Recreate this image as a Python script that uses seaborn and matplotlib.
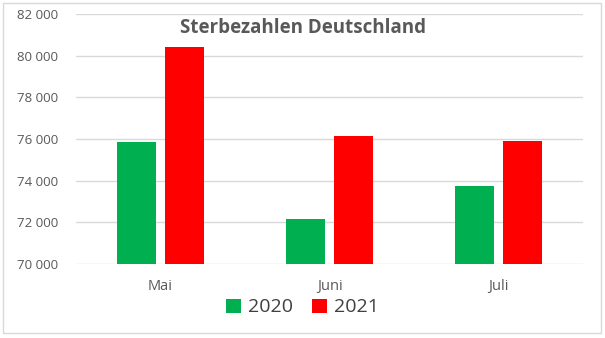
import matplotlib
matplotlib.use("Agg")
import matplotlib.pyplot as plt
import matplotlib.ticker as mticker
import seaborn as sns
import pandas as pd

months = ["Mai", "Juni", "Juli"]
years = ["2020", "2021"]
deaths_2020 = [75870, 72160, 73760]
deaths_2021 = [80400, 76130, 75900]
colors = ["#00B050", "#FF0000"]

df = pd.DataFrame({
    "Monat": months * 2,
    "Jahr": [years[0]] * 3 + [years[1]] * 3,
    "Sterbefälle": deaths_2020 + deaths_2021,
})

sns.set_theme(style="white")
plt.rcParams["font.family"] = ["Open Sans", "DejaVu Sans"]

fig = plt.figure(figsize=(6.05, 3.38), dpi=100)
ax = fig.add_axes([76 / 605, 1 - 264 / 338, (583 - 76) / 605, (264 - 14) / 338])

sns.barplot(data=df, x="Monat", y="Sterbefälle", hue="Jahr", palette=colors,
            width=0.568, gap=0.2, ax=ax, legend=True, saturation=1, linewidth=0)

ax.set_ylim(70000, 82000)
ax.yaxis.set_major_locator(mticker.MultipleLocator(2000))
ax.yaxis.set_major_formatter(mticker.FuncFormatter(lambda v, p: f"{int(v):,}".replace(",", " ")))
ax.grid(axis="y", color="#D9D9D9", linewidth=1)
ax.set_axisbelow(True)
for s in ax.spines.values():
    s.set_visible(False)
ax.tick_params(axis="both", length=0, colors="#595959")
ax.tick_params(axis="y", labelsize=9.5, pad=13)
ax.tick_params(axis="x", labelsize=10.5, pad=11)
ax.set_xlabel("")
ax.set_ylabel("")

ax.get_legend().remove()
handles, labels = ax.get_legend_handles_labels()
fig.legend(handles, labels, loc="center", bbox_to_anchor=(0.5, 1 - 307.5 / 338),
           ncol=2, frameon=False, fontsize=14, handlelength=0.75, handleheight=0.75,
           handletextpad=0.35, columnspacing=1.0, labelcolor="#404040")

fig.text(0.5, 1 - 28 / 338, "Sterbezahlen Deutschland", ha="center", va="center",
         fontsize=13.5, fontweight="bold", color="#595959")

border = plt.Rectangle((3 / 605, 5 / 338), 598 / 605, 330 / 338, transform=fig.transFigure,
                       fill=False, edgecolor="#D9D9D9", linewidth=1)
fig.patches.append(border)

fig.savefig("out.png", dpi=100)
